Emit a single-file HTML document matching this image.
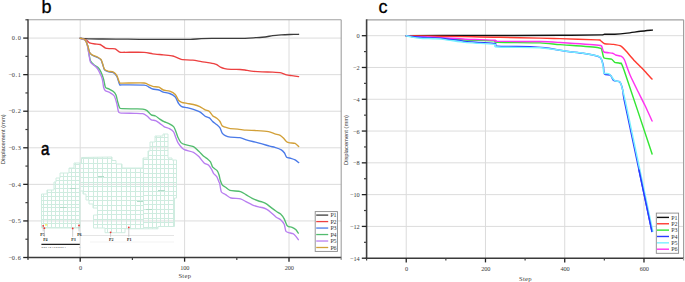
<!DOCTYPE html>
<html><head><meta charset="utf-8"><style>
html,body{margin:0;padding:0;background:#fff;width:685px;height:282px;overflow:hidden}
svg text{font-family:"Liberation Serif",serif}
</style></head><body>
<svg width="685" height="282" viewBox="0 0 685 282" style="display:block;font-family:'Liberation Serif',serif">
<rect width="685" height="282" fill="#fff"/>
<line x1="28" y1="38.08" x2="341.2" y2="38.08" stroke="#dcdcdc" stroke-width="1" />
<line x1="28" y1="74.65" x2="341.2" y2="74.65" stroke="#dcdcdc" stroke-width="1" />
<line x1="28" y1="111.22" x2="341.2" y2="111.22" stroke="#dcdcdc" stroke-width="1" />
<line x1="28" y1="147.79" x2="341.2" y2="147.79" stroke="#dcdcdc" stroke-width="1" />
<line x1="28" y1="184.36" x2="341.2" y2="184.36" stroke="#dcdcdc" stroke-width="1" />
<line x1="28" y1="220.93" x2="341.2" y2="220.93" stroke="#dcdcdc" stroke-width="1" />
<line x1="80.2" y1="19.8" x2="80.2" y2="257.5" stroke="#dcdcdc" stroke-width="1" />
<line x1="184.6" y1="19.8" x2="184.6" y2="257.5" stroke="#dcdcdc" stroke-width="1" />
<line x1="289" y1="19.8" x2="289" y2="257.5" stroke="#dcdcdc" stroke-width="1" />
<clipPath id="mc"><polygon points="41.5,228 41.5,194 47,194 47,190 54,190 54,182 56,182 56,178 60,178 60,173 69,173 69,168 74,168 74,163 81.5,163 81.5,157.5 112,157 112,160.5 116,160.5 116,164 122,164 122,168 143,168 143,158 148,158 148,151 150,151 150,142 155,142 155,136 163,136 163,134 168,134 168,158 172,158 172,160 176.5,160 176.5,198 174.5,198 174.5,226.5 158,226.5 158,228.8 125,228.8 125,232.7 105,232.7 105,228 93.5,228 93.5,215 97.5,215 97.5,208 93,208 93,204 89,204 89,200 86,200 86,194 83,194 83,191 80,191 80,228"/></clipPath>
<g clip-path="url(#mc)">
<line x1="39.5" y1="130" x2="39.5" y2="236" stroke="#cfece0" stroke-width="1" />
<line x1="43.5" y1="130" x2="43.5" y2="236" stroke="#cfece0" stroke-width="1" />
<line x1="47.5" y1="130" x2="47.5" y2="236" stroke="#cfece0" stroke-width="1" />
<line x1="51.5" y1="130" x2="51.5" y2="236" stroke="#cfece0" stroke-width="1" />
<line x1="55.5" y1="130" x2="55.5" y2="236" stroke="#cfece0" stroke-width="1" />
<line x1="59.5" y1="130" x2="59.5" y2="236" stroke="#cfece0" stroke-width="1" />
<line x1="63.5" y1="130" x2="63.5" y2="236" stroke="#cfece0" stroke-width="1" />
<line x1="67.5" y1="130" x2="67.5" y2="236" stroke="#cfece0" stroke-width="1" />
<line x1="71.5" y1="130" x2="71.5" y2="236" stroke="#cfece0" stroke-width="1" />
<line x1="75.5" y1="130" x2="75.5" y2="236" stroke="#cfece0" stroke-width="1" />
<line x1="79.5" y1="130" x2="79.5" y2="236" stroke="#cfece0" stroke-width="1" />
<line x1="38" y1="129.5" x2="80.5" y2="129.5" stroke="#cfece0" stroke-width="1" />
<line x1="38" y1="133.5" x2="80.5" y2="133.5" stroke="#cfece0" stroke-width="1" />
<line x1="38" y1="137.5" x2="80.5" y2="137.5" stroke="#cfece0" stroke-width="1" />
<line x1="38" y1="141.5" x2="80.5" y2="141.5" stroke="#cfece0" stroke-width="1" />
<line x1="38" y1="145.5" x2="80.5" y2="145.5" stroke="#cfece0" stroke-width="1" />
<line x1="38" y1="149.5" x2="80.5" y2="149.5" stroke="#cfece0" stroke-width="1" />
<line x1="38" y1="153.5" x2="80.5" y2="153.5" stroke="#cfece0" stroke-width="1" />
<line x1="38" y1="157.5" x2="80.5" y2="157.5" stroke="#cfece0" stroke-width="1" />
<line x1="38" y1="161.5" x2="80.5" y2="161.5" stroke="#cfece0" stroke-width="1" />
<line x1="38" y1="164.5" x2="80.5" y2="164.5" stroke="#cfece0" stroke-width="1" />
<line x1="38" y1="168.5" x2="80.5" y2="168.5" stroke="#cfece0" stroke-width="1" />
<line x1="38" y1="172.5" x2="80.5" y2="172.5" stroke="#cfece0" stroke-width="1" />
<line x1="38" y1="176.5" x2="80.5" y2="176.5" stroke="#cfece0" stroke-width="1" />
<line x1="38" y1="180.5" x2="80.5" y2="180.5" stroke="#cfece0" stroke-width="1" />
<line x1="38" y1="184.5" x2="80.5" y2="184.5" stroke="#cfece0" stroke-width="1" />
<line x1="38" y1="188.5" x2="80.5" y2="188.5" stroke="#cfece0" stroke-width="1" />
<line x1="38" y1="192.5" x2="80.5" y2="192.5" stroke="#cfece0" stroke-width="1" />
<line x1="38" y1="196.5" x2="80.5" y2="196.5" stroke="#cfece0" stroke-width="1" />
<line x1="38" y1="200.5" x2="80.5" y2="200.5" stroke="#cfece0" stroke-width="1" />
<line x1="38" y1="204.5" x2="80.5" y2="204.5" stroke="#cfece0" stroke-width="1" />
<line x1="38" y1="207.5" x2="80.5" y2="207.5" stroke="#cfece0" stroke-width="1" />
<line x1="38" y1="211.5" x2="80.5" y2="211.5" stroke="#cfece0" stroke-width="1" />
<line x1="38" y1="215.5" x2="80.5" y2="215.5" stroke="#cfece0" stroke-width="1" />
<line x1="38" y1="219.5" x2="80.5" y2="219.5" stroke="#cfece0" stroke-width="1" />
<line x1="38" y1="223.5" x2="80.5" y2="223.5" stroke="#cfece0" stroke-width="1" />
<line x1="38" y1="227.5" x2="80.5" y2="227.5" stroke="#cfece0" stroke-width="1" />
<line x1="38" y1="231.5" x2="80.5" y2="231.5" stroke="#cfece0" stroke-width="1" />
<line x1="38" y1="235.5" x2="80.5" y2="235.5" stroke="#cfece0" stroke-width="1" />
<line x1="83.5" y1="130" x2="83.5" y2="236" stroke="#cfece0" stroke-width="1" />
<line x1="88.5" y1="130" x2="88.5" y2="236" stroke="#cfece0" stroke-width="1" />
<line x1="93.5" y1="130" x2="93.5" y2="236" stroke="#cfece0" stroke-width="1" />
<line x1="97.5" y1="130" x2="97.5" y2="236" stroke="#cfece0" stroke-width="1" />
<line x1="102.5" y1="130" x2="102.5" y2="236" stroke="#cfece0" stroke-width="1" />
<line x1="107.5" y1="130" x2="107.5" y2="236" stroke="#cfece0" stroke-width="1" />
<line x1="111.5" y1="130" x2="111.5" y2="236" stroke="#cfece0" stroke-width="1" />
<line x1="116.5" y1="130" x2="116.5" y2="236" stroke="#cfece0" stroke-width="1" />
<line x1="121.5" y1="130" x2="121.5" y2="236" stroke="#cfece0" stroke-width="1" />
<line x1="126.5" y1="130" x2="126.5" y2="236" stroke="#cfece0" stroke-width="1" />
<line x1="130.5" y1="130" x2="130.5" y2="236" stroke="#cfece0" stroke-width="1" />
<line x1="135.5" y1="130" x2="135.5" y2="236" stroke="#cfece0" stroke-width="1" />
<line x1="140.5" y1="130" x2="140.5" y2="236" stroke="#cfece0" stroke-width="1" />
<line x1="80.5" y1="131.5" x2="143.2" y2="131.5" stroke="#cfece0" stroke-width="1" />
<line x1="80.5" y1="135.5" x2="143.2" y2="135.5" stroke="#cfece0" stroke-width="1" />
<line x1="80.5" y1="140.5" x2="143.2" y2="140.5" stroke="#cfece0" stroke-width="1" />
<line x1="80.5" y1="145.5" x2="143.2" y2="145.5" stroke="#cfece0" stroke-width="1" />
<line x1="80.5" y1="149.5" x2="143.2" y2="149.5" stroke="#cfece0" stroke-width="1" />
<line x1="80.5" y1="154.5" x2="143.2" y2="154.5" stroke="#cfece0" stroke-width="1" />
<line x1="80.5" y1="158.5" x2="143.2" y2="158.5" stroke="#cfece0" stroke-width="1" />
<line x1="80.5" y1="163.5" x2="143.2" y2="163.5" stroke="#cfece0" stroke-width="1" />
<line x1="80.5" y1="168.5" x2="143.2" y2="168.5" stroke="#cfece0" stroke-width="1" />
<line x1="80.5" y1="172.5" x2="143.2" y2="172.5" stroke="#cfece0" stroke-width="1" />
<line x1="80.5" y1="177.5" x2="143.2" y2="177.5" stroke="#cfece0" stroke-width="1" />
<line x1="80.5" y1="182.5" x2="143.2" y2="182.5" stroke="#cfece0" stroke-width="1" />
<line x1="80.5" y1="186.5" x2="143.2" y2="186.5" stroke="#cfece0" stroke-width="1" />
<line x1="80.5" y1="191.5" x2="143.2" y2="191.5" stroke="#cfece0" stroke-width="1" />
<line x1="80.5" y1="196.5" x2="143.2" y2="196.5" stroke="#cfece0" stroke-width="1" />
<line x1="80.5" y1="200.5" x2="143.2" y2="200.5" stroke="#cfece0" stroke-width="1" />
<line x1="80.5" y1="205.5" x2="143.2" y2="205.5" stroke="#cfece0" stroke-width="1" />
<line x1="80.5" y1="210.5" x2="143.2" y2="210.5" stroke="#cfece0" stroke-width="1" />
<line x1="80.5" y1="214.5" x2="143.2" y2="214.5" stroke="#cfece0" stroke-width="1" />
<line x1="80.5" y1="219.5" x2="143.2" y2="219.5" stroke="#cfece0" stroke-width="1" />
<line x1="80.5" y1="224.5" x2="143.2" y2="224.5" stroke="#cfece0" stroke-width="1" />
<line x1="80.5" y1="228.5" x2="143.2" y2="228.5" stroke="#cfece0" stroke-width="1" />
<line x1="80.5" y1="233.5" x2="143.2" y2="233.5" stroke="#cfece0" stroke-width="1" />
<line x1="143.5" y1="130" x2="143.5" y2="236" stroke="#cfece0" stroke-width="1" />
<line x1="148.5" y1="130" x2="148.5" y2="236" stroke="#cfece0" stroke-width="1" />
<line x1="152.5" y1="130" x2="152.5" y2="236" stroke="#cfece0" stroke-width="1" />
<line x1="156.5" y1="130" x2="156.5" y2="236" stroke="#cfece0" stroke-width="1" />
<line x1="160.5" y1="130" x2="160.5" y2="236" stroke="#cfece0" stroke-width="1" />
<line x1="164.5" y1="130" x2="164.5" y2="236" stroke="#cfece0" stroke-width="1" />
<line x1="168.5" y1="130" x2="168.5" y2="236" stroke="#cfece0" stroke-width="1" />
<line x1="173.5" y1="130" x2="173.5" y2="236" stroke="#cfece0" stroke-width="1" />
<line x1="177.5" y1="130" x2="177.5" y2="236" stroke="#cfece0" stroke-width="1" />
<line x1="181.5" y1="130" x2="181.5" y2="236" stroke="#cfece0" stroke-width="1" />
<line x1="143.2" y1="132.5" x2="181" y2="132.5" stroke="#cfece0" stroke-width="1" />
<line x1="143.2" y1="137.5" x2="181" y2="137.5" stroke="#cfece0" stroke-width="1" />
<line x1="143.2" y1="141.5" x2="181" y2="141.5" stroke="#cfece0" stroke-width="1" />
<line x1="143.2" y1="146.5" x2="181" y2="146.5" stroke="#cfece0" stroke-width="1" />
<line x1="143.2" y1="150.5" x2="181" y2="150.5" stroke="#cfece0" stroke-width="1" />
<line x1="143.2" y1="155.5" x2="181" y2="155.5" stroke="#cfece0" stroke-width="1" />
<line x1="143.2" y1="159.5" x2="181" y2="159.5" stroke="#cfece0" stroke-width="1" />
<line x1="143.2" y1="164.5" x2="181" y2="164.5" stroke="#cfece0" stroke-width="1" />
<line x1="143.2" y1="168.5" x2="181" y2="168.5" stroke="#cfece0" stroke-width="1" />
<line x1="143.2" y1="173.5" x2="181" y2="173.5" stroke="#cfece0" stroke-width="1" />
<line x1="143.2" y1="177.5" x2="181" y2="177.5" stroke="#cfece0" stroke-width="1" />
<line x1="143.2" y1="182.5" x2="181" y2="182.5" stroke="#cfece0" stroke-width="1" />
<line x1="143.2" y1="186.5" x2="181" y2="186.5" stroke="#cfece0" stroke-width="1" />
<line x1="143.2" y1="191.5" x2="181" y2="191.5" stroke="#cfece0" stroke-width="1" />
<line x1="143.2" y1="195.5" x2="181" y2="195.5" stroke="#cfece0" stroke-width="1" />
<line x1="143.2" y1="200.5" x2="181" y2="200.5" stroke="#cfece0" stroke-width="1" />
<line x1="143.2" y1="204.5" x2="181" y2="204.5" stroke="#cfece0" stroke-width="1" />
<line x1="143.2" y1="209.5" x2="181" y2="209.5" stroke="#cfece0" stroke-width="1" />
<line x1="143.2" y1="213.5" x2="181" y2="213.5" stroke="#cfece0" stroke-width="1" />
<line x1="143.2" y1="218.5" x2="181" y2="218.5" stroke="#cfece0" stroke-width="1" />
<line x1="143.2" y1="222.5" x2="181" y2="222.5" stroke="#cfece0" stroke-width="1" />
<line x1="143.2" y1="227.5" x2="181" y2="227.5" stroke="#cfece0" stroke-width="1" />
<line x1="143.2" y1="231.5" x2="181" y2="231.5" stroke="#cfece0" stroke-width="1" />
<line x1="143.2" y1="236.5" x2="181" y2="236.5" stroke="#cfece0" stroke-width="1" />
</g>
<polygon points="41.5,228 41.5,194 47,194 47,190 54,190 54,182 56,182 56,178 60,178 60,173 69,173 69,168 74,168 74,163 81.5,163 81.5,157.5 112,157 112,160.5 116,160.5 116,164 122,164 122,168 143,168 143,158 148,158 148,151 150,151 150,142 155,142 155,136 163,136 163,134 168,134 168,158 172,158 172,160 176.5,160 176.5,198 174.5,198 174.5,226.5 158,226.5 158,228.8 125,228.8 125,232.7 105,232.7 105,228 93.5,228 93.5,215 97.5,215 97.5,208 93,208 93,204 89,204 89,200 86,200 86,194 83,194 83,191 80,191 80,228" fill="none" stroke="#cfece0" stroke-width="1"/>
<line x1="60" y1="207.5" x2="66.5" y2="207.5" stroke="#b2dcc9" stroke-width="1" />
<line x1="98" y1="176.5" x2="104" y2="176.5" stroke="#b2dcc9" stroke-width="1" />
<line x1="146" y1="209.5" x2="152" y2="209.5" stroke="#b2dcc9" stroke-width="1" />
<line x1="158" y1="190.5" x2="165" y2="190.5" stroke="#b2dcc9" stroke-width="1" />
<line x1="70" y1="188.5" x2="76" y2="188.5" stroke="#b2dcc9" stroke-width="1" />
<line x1="137" y1="201.5" x2="143" y2="201.5" stroke="#b2dcc9" stroke-width="1" />
<line x1="80" y1="235.5" x2="174" y2="235.5" stroke="#e2e2e2" stroke-width="0.9" />
<line x1="90" y1="242" x2="174" y2="242" stroke="#f0f0f0" stroke-width="0.8" />
<line x1="43.2" y1="225.8" x2="43.2" y2="231.4" stroke="#b0b0b0" stroke-width="0.6" />
<circle cx="43.2" cy="225.8" r="0.9" fill="#e33"/>
<text x="42.6" y="235.6" font-size="4.0" text-anchor="middle" fill="#222" font-weight="bold">P5</text>
<line x1="44.4" y1="228.2" x2="44.4" y2="236.8" stroke="#b0b0b0" stroke-width="0.6" />
<circle cx="44.4" cy="228.2" r="0.9" fill="#e33"/>
<text x="45.4" y="241" font-size="4.0" text-anchor="middle" fill="#222" font-weight="bold">P4</text>
<line x1="72.7" y1="228.4" x2="72.7" y2="236.8" stroke="#b0b0b0" stroke-width="0.6" />
<circle cx="72.7" cy="228.4" r="0.9" fill="#e33"/>
<text x="73.5" y="241" font-size="4.0" text-anchor="middle" fill="#222" font-weight="bold">P3</text>
<line x1="79" y1="225.4" x2="79" y2="231.4" stroke="#b0b0b0" stroke-width="0.6" />
<circle cx="79.0" cy="225.4" r="0.9" fill="#e33"/>
<text x="79.4" y="235.6" font-size="4.0" text-anchor="middle" fill="#222" font-weight="bold">P6</text>
<line x1="110.6" y1="232.3" x2="110.6" y2="236.8" stroke="#b0b0b0" stroke-width="0.6" />
<circle cx="110.6" cy="232.3" r="0.9" fill="#e33"/>
<text x="111.3" y="241" font-size="4.0" text-anchor="middle" fill="#222" font-weight="bold">P2</text>
<line x1="128.8" y1="227.3" x2="128.8" y2="236.8" stroke="#b0b0b0" stroke-width="0.6" />
<circle cx="128.8" cy="227.3" r="0.9" fill="#e33"/>
<text x="129.2" y="241" font-size="4.0" text-anchor="middle" fill="#222" font-weight="bold">P1</text>
<rect x="45" y="224.3" width="2.2" height="1.2" fill="#ee4"/>
<line x1="41.4" y1="244.4" x2="79.8" y2="244.4" stroke="#222" stroke-width="1.1" />
<text x="41.4" y="248" font-size="2.8" text-anchor="start" fill="#222" >0 0.5 1.0 1.5 2.0 2.5  1</text>
<text x="79.6" y="248.2" font-size="2.6" text-anchor="middle" fill="#333" >r</text>
<text transform="translate(41.0,155.2) scale(0.82,1)" font-size="18.4" fill="#000" stroke="#000" stroke-width="0.55" style="font-family:'Liberation Sans',sans-serif">a</text>
<path d="M80.2,38.3 C81.34,38.36 87.36,38.72 90,38.8 C92.64,38.88 98.37,38.95 102.8,39 C107.23,39.05 122.49,39.15 128,39.2 C133.51,39.25 143.93,39.39 150,39.4 C156.07,39.41 175.26,39.3 180,39.3 C184.74,39.3 188.11,39.48 190.6,39.4 C193.09,39.32 198.81,38.73 201.3,38.6 C203.79,38.47 206.8,38.34 211.9,38.3 C217,38.26 239.9,38.37 245,38.3 C250.1,38.23 253.24,37.85 255.6,37.7 C257.96,37.55 263.2,37.24 265.2,37 C267.19,36.76 270.83,35.84 272.7,35.6 C274.57,35.36 279.22,35.03 281.2,34.9 C283.18,34.77 287.67,34.57 289.7,34.5 C291.73,34.43 297.56,34.32 298.6,34.3" fill="none" stroke="#3c3c3c" stroke-width="1.35" stroke-linejoin="round" stroke-linecap="round" />
<path d="M80.2,38.3 C80.88,38.47 84.92,39.27 86,39.8 C87.08,40.32 88.45,42.31 89.5,42.8 C90.55,43.29 93.75,43.8 95,44 C96.25,44.2 98.98,44.02 100.2,44.5 C101.42,44.98 104.36,47.62 105.5,48.1 C106.64,48.58 108.87,48.52 110,48.6 C111.13,48.68 114.07,48.38 115.2,48.8 C116.33,49.22 118.56,51.79 119.7,52.2 C120.84,52.61 122.15,52.29 125,52.3 C127.85,52.31 140.87,52.12 144.1,52.3 C147.33,52.47 150.46,53.5 152.7,53.8 C154.94,54.1 160.94,54.64 163.3,54.9 C165.66,55.16 171.03,55.56 172.9,56 C174.77,56.44 178.19,58.28 179.3,58.7 C180.41,59.12 180.83,59.44 182.4,59.6 C183.97,59.76 190.59,59.87 192.8,60.1 C195.01,60.33 199.32,61.27 201.3,61.6 C203.28,61.93 208.06,62.57 209.8,62.9 C211.54,63.23 214.96,63.91 216.2,64.4 C217.44,64.89 219.41,66.61 220.4,67.1 C221.39,67.59 223.45,68.34 224.7,68.6 C225.95,68.86 229.31,69.19 231.1,69.3 C232.88,69.41 238.38,69.42 240,69.5 C241.62,69.58 243.67,69.81 245,70 C246.33,70.19 249.42,70.88 251.4,71.1 C253.38,71.32 259.51,71.78 262,71.9 C264.49,72.02 270.46,71.99 272.7,72.1 C274.94,72.2 279.59,72.47 281.2,72.8 C282.81,73.13 285.26,74.56 286.5,74.9 C287.74,75.24 290.39,75.5 291.8,75.7 C293.21,75.9 297.81,76.49 298.6,76.6" fill="none" stroke="#ec4040" stroke-width="1.35" stroke-linejoin="round" stroke-linecap="round" />
<path d="M80.2,38.3 C80.76,38.47 84.11,38.9 85,39.8 C85.89,40.7 87.27,44.55 87.8,46 C88.33,47.45 88.99,51.12 89.5,52.2 C90.01,53.29 91.27,54.68 92.2,55.3 C93.13,55.92 96.47,56.98 97.5,57.5 C98.53,58.02 100.39,58.98 101,59.8 C101.61,60.62 102.29,63.32 102.7,64.5 C103.11,65.68 103.88,69.06 104.5,69.9 C105.12,70.74 106.96,71.39 108,71.7 C109.04,72.02 112.36,72.04 113.4,72.6 C114.44,73.16 116.18,75.11 116.9,76.5 C117.62,77.89 118.98,83.52 119.6,84.5 C120.22,85.48 119.34,84.83 122.2,84.9 C125.06,84.97 141.04,84.88 144.1,85.1 C147.16,85.32 147.4,86.34 148.4,86.8 C149.4,87.25 151.46,88.63 152.7,89 C153.94,89.37 157.76,89.64 159,90 C160.24,90.36 162.05,91.69 163.3,92.1 C164.55,92.51 168.3,92.93 169.7,93.5 C171.1,94.07 174.27,95.84 175.3,97 C176.33,98.16 177.75,102.28 178.5,103.4 C179.25,104.52 180.71,106.1 181.7,106.6 C182.69,107.1 185.63,107.37 187,107.7 C188.37,108.03 191.91,108.91 193.4,109.4 C194.89,109.89 198.44,111.11 199.8,111.9 C201.17,112.69 203.98,115.5 205.1,116.2 C206.22,116.9 208.53,117.28 209.4,117.9 C210.28,118.52 211.74,120.71 212.6,121.5 C213.46,122.29 215.94,123.95 216.8,124.7 C217.66,125.45 219.37,126.91 220,127.9 C220.63,128.89 221.58,132.29 222.2,133.2 C222.82,134.11 224.36,135.23 225.3,135.7 C226.25,136.17 228.6,136.97 230.3,137.2 C232,137.43 238.03,137.4 239.9,137.7 C241.77,138 244.81,139.36 246.3,139.8 C247.79,140.24 250.96,141.06 252.7,141.5 C254.44,141.94 259.22,143.05 261.2,143.6 C263.18,144.15 268.1,145.76 269.7,146.2 C271.3,146.64 273.55,146.98 274.9,147.4 C276.25,147.82 280.18,149.15 281.3,149.8 C282.42,150.45 283.88,152.14 284.5,153 C285.12,153.86 285.85,156.58 286.6,157.2 C287.35,157.82 289.91,158 290.9,158.3 C291.89,158.6 294.19,159.3 295.1,159.8 C296.01,160.3 298.28,162.27 298.7,162.6" fill="none" stroke="#4a7ae8" stroke-width="1.35" stroke-linejoin="round" stroke-linecap="round" />
<path d="M80.2,38.3 C80.88,38.54 85.11,39.36 86,40.4 C86.89,41.44 87.45,45.61 87.8,47.2 C88.15,48.79 88.67,52.39 89,54 C89.33,55.61 90.03,59.74 90.6,61 C91.17,62.26 93,64.02 93.9,64.8 C94.8,65.58 97.47,66.85 98.3,67.7 C99.13,68.55 100.38,70.76 101,72.1 C101.62,73.44 103.09,77.44 103.6,79.2 C104.11,80.96 104.78,86.07 105.4,87.2 C106.02,88.33 107.97,88.39 108.9,88.9 C109.83,89.41 112.57,90.88 113.4,91.6 C114.23,92.32 115.49,93.86 116,95.1 C116.51,96.34 117.38,100.72 117.8,102.2 C118.22,103.68 119.09,107.04 119.6,107.8 C120.11,108.56 120.4,108.57 122.2,108.7 C124,108.83 132.6,108.85 135,108.9 C137.4,108.95 141.4,108.9 142.8,109.1 C144.2,109.3 146.01,109.92 147,110.6 C147.99,111.28 150.31,114.27 151.3,114.9 C152.29,115.53 154.51,115.51 155.5,116 C156.49,116.49 158.81,118.43 159.8,119.1 C160.79,119.77 162.88,121.15 164,121.7 C165.12,122.25 168.28,123.23 169.4,123.8 C170.52,124.37 172.87,125.77 173.6,126.6 C174.33,127.43 175.2,129.66 175.7,130.9 C176.2,132.14 177.28,135.83 177.9,137.2 C178.52,138.56 180.14,141.72 181,142.6 C181.86,143.47 183.84,144.23 185.3,144.7 C186.76,145.17 191.93,145.83 193.5,146.6 C195.07,147.37 197.56,150.13 198.8,151.3 C200.04,152.47 203.11,155.74 204.1,156.6 C205.09,157.46 206.55,158.08 207.3,158.7 C208.05,159.32 209.87,160.91 210.5,161.9 C211.13,162.89 211.95,166.21 212.7,167.2 C213.45,168.19 216.16,169.53 216.9,170.4 C217.64,171.28 218.6,173.54 219,174.7 C219.4,175.85 219.9,179.08 220.3,180.3 C220.7,181.53 221.78,184.38 222.4,185.2 C223.02,186.02 224.72,186.71 225.6,187.3 C226.47,187.9 228.16,189.8 229.9,190.3 C231.64,190.8 238.63,191.1 240.5,191.6 C242.37,192.1 244.53,193.81 245.9,194.6 C247.27,195.39 250.72,197.65 252.2,198.4 C253.68,199.15 257.46,200.59 258.6,201 C259.74,201.41 261.09,201.56 262,201.9 C262.91,202.24 265.36,203.26 266.4,203.9 C267.44,204.54 269.76,206.54 270.9,207.4 C272.04,208.26 275.07,210.52 276.2,211.3 C277.33,212.08 279.67,213.21 280.6,214.1 C281.53,214.99 283.48,217.62 284.2,218.9 C284.92,220.18 286.29,224.2 286.8,225.1 C287.31,226 287.98,226.34 288.6,226.6 C289.22,226.86 291.27,226.95 292.1,227.3 C292.93,227.65 294.98,228.92 295.7,229.6 C296.42,230.28 298,232.69 298.3,233.1" fill="none" stroke="#52bc6e" stroke-width="1.35" stroke-linejoin="round" stroke-linecap="round" />
<path d="M80.2,38.3 C80.88,38.57 85.11,39.5 86,40.6 C86.89,41.7 87.45,46.04 87.8,47.7 C88.15,49.36 88.7,53.13 89,54.8 C89.3,56.47 89.93,60.86 90.4,62 C90.87,63.14 92.18,63.84 93,64.6 C93.82,65.36 96.47,67.22 97.4,68.5 C98.33,69.78 100.41,74.26 101,75.6 C101.59,76.94 102.2,78.65 102.5,80 C102.8,81.35 103.26,85.95 103.6,87.2 C103.94,88.45 104.68,90.08 105.4,90.7 C106.12,91.32 108.76,91.88 109.8,92.5 C110.84,93.12 113.47,94.66 114.3,96 C115.13,97.34 116.39,102.11 116.9,104 C117.41,105.89 118.08,111.14 118.7,112.2 C119.32,113.26 120.3,112.97 122.2,113.1 C124.1,113.23 132.6,113.23 135,113.3 C137.4,113.37 141.4,113.39 142.8,113.7 C144.2,114.02 146.01,115.29 147,116 C147.99,116.71 150.31,119.26 151.3,119.8 C152.29,120.34 154.51,120.18 155.5,120.6 C156.49,121.02 158.81,122.7 159.8,123.4 C160.79,124.1 162.88,125.98 164,126.6 C165.12,127.22 168.28,128.08 169.4,128.7 C170.52,129.32 172.87,130.91 173.6,131.9 C174.33,132.89 175.2,135.95 175.7,137.2 C176.2,138.45 177.15,141.35 177.9,142.6 C178.65,143.85 181.24,147.04 182.1,147.9 C182.96,148.76 183.97,149.49 185.3,150 C186.63,150.51 191.93,151.53 193.5,152.3 C195.07,153.07 197.56,155.35 198.8,156.6 C200.04,157.85 202.98,162.01 204.1,163 C205.22,163.99 207.53,164.35 208.4,165.1 C209.28,165.85 210.98,168.41 211.6,169.4 C212.22,170.39 213.08,172.74 213.7,173.6 C214.32,174.46 216.28,175.81 216.9,176.8 C217.52,177.79 218.67,181.32 219,182.1 C219.33,182.88 219.42,182.34 219.7,183.5 C219.98,184.66 220.71,190.71 221.4,192 C222.09,193.29 224.48,193.9 225.6,194.6 C226.72,195.3 229.26,197.51 231,198 C232.74,198.49 238.76,198.38 240.5,198.8 C242.24,199.22 244.53,200.9 245.9,201.6 C247.27,202.3 250.72,204.18 252.2,204.8 C253.68,205.42 257.46,206.59 258.6,206.9 C259.74,207.22 261.09,207.23 262,207.5 C262.91,207.77 265.36,208.63 266.4,209.2 C267.44,209.77 269.76,211.47 270.9,212.4 C272.04,213.33 275.07,216.34 276.2,217.2 C277.33,218.06 279.67,218.97 280.6,219.8 C281.53,220.63 283.58,222.96 284.2,224.3 C284.82,225.64 285.39,230.33 285.9,231.3 C286.41,232.27 287.77,232.32 288.6,232.6 C289.43,232.88 292.17,233.29 293,233.7 C293.83,234.11 295.08,235.4 295.7,236.1 C296.32,236.8 298,239.28 298.3,239.7" fill="none" stroke="#b87ef0" stroke-width="1.35" stroke-linejoin="round" stroke-linecap="round" />
<path d="M80.2,38.3 C80.76,38.47 84.11,38.9 85,39.8 C85.89,40.7 87.27,44.55 87.8,46 C88.33,47.45 88.99,51.17 89.5,52.2 C90.01,53.23 91.27,54.24 92.2,54.8 C93.13,55.36 96.47,56.48 97.5,57 C98.53,57.52 100.39,58.48 101,59.3 C101.61,60.12 102.29,62.82 102.7,64 C103.11,65.18 103.88,68.56 104.5,69.4 C105.12,70.24 106.96,70.89 108,71.2 C109.04,71.52 112.36,71.59 113.4,72.1 C114.44,72.61 116.18,74.36 116.9,75.6 C117.62,76.84 118.98,81.83 119.6,82.7 C120.22,83.58 119.34,83.06 122.2,83.1 C125.06,83.13 141.04,82.81 144.1,83 C147.16,83.19 147.4,84.3 148.4,84.7 C149.4,85.1 151.46,86.11 152.7,86.4 C153.94,86.69 157.76,86.78 159,87.2 C160.24,87.62 162.05,89.53 163.3,90 C164.55,90.47 168.3,90.67 169.7,91.2 C171.1,91.73 174.27,93.45 175.3,94.5 C176.33,95.55 177.75,99.29 178.5,100.2 C179.25,101.11 180.71,101.93 181.7,102.3 C182.69,102.67 185.63,103.14 187,103.4 C188.37,103.66 191.91,104.13 193.4,104.5 C194.89,104.87 198.44,105.98 199.8,106.6 C201.17,107.22 203.98,109.23 205.1,109.8 C206.22,110.37 208.53,110.81 209.4,111.5 C210.28,112.19 211.74,114.91 212.6,115.7 C213.46,116.49 215.94,117.62 216.8,118.3 C217.66,118.98 219.38,120.64 220,121.5 C220.62,122.36 221.48,125.03 222.1,125.7 C222.72,126.37 224.34,126.85 225.3,127.2 C226.26,127.55 228.84,128.48 230.3,128.7 C231.76,128.92 235.93,128.92 237.8,129.1 C239.67,129.28 244.07,130.02 246.3,130.2 C248.53,130.38 254.31,130.42 256.9,130.6 C259.49,130.78 266.4,131.33 268.5,131.7 C270.6,132.07 273.53,133.38 274.9,133.8 C276.26,134.22 279.21,134.8 280.2,135.3 C281.19,135.8 282.65,137.35 283.4,138.1 C284.15,138.85 285.85,141.15 286.6,141.7 C287.35,142.25 288.81,142.6 289.8,142.8 C290.79,143 294.06,142.96 295.1,143.4 C296.14,143.84 298.28,146.23 298.7,146.6" fill="none" stroke="#d2a038" stroke-width="1.35" stroke-linejoin="round" stroke-linecap="round" />
<line x1="28" y1="19.8" x2="341.2" y2="19.8" stroke="#a0a0a0" stroke-width="1.1" />
<line x1="341.2" y1="19.8" x2="341.2" y2="259.3" stroke="#a0a0a0" stroke-width="1.1" />
<line x1="28" y1="19.3" x2="28" y2="258.3" stroke="#505050" stroke-width="1.6" />
<line x1="27.2" y1="257.5" x2="341.2" y2="257.5" stroke="#3a3a3a" stroke-width="1.5" />
<line x1="23.2" y1="38.08" x2="28" y2="38.08" stroke="#222" stroke-width="1.3" />
<text x="13.4 16.32 19.24" y="40.28" font-size="6.3" text-anchor="middle" fill="#3a3a3a" >0.0</text>
<line x1="23.2" y1="74.65" x2="28" y2="74.65" stroke="#222" stroke-width="1.3" />
<text x="10.48 13.4 16.32 19.24" y="76.85" font-size="6.3" text-anchor="middle" fill="#3a3a3a" >−0.1</text>
<line x1="23.2" y1="111.22" x2="28" y2="111.22" stroke="#222" stroke-width="1.3" />
<text x="10.48 13.4 16.32 19.24" y="113.42" font-size="6.3" text-anchor="middle" fill="#3a3a3a" >−0.2</text>
<line x1="23.2" y1="147.79" x2="28" y2="147.79" stroke="#222" stroke-width="1.3" />
<text x="10.48 13.4 16.32 19.24" y="149.99" font-size="6.3" text-anchor="middle" fill="#3a3a3a" >−0.3</text>
<line x1="23.2" y1="184.36" x2="28" y2="184.36" stroke="#222" stroke-width="1.3" />
<text x="10.48 13.4 16.32 19.24" y="186.56" font-size="6.3" text-anchor="middle" fill="#3a3a3a" >−0.4</text>
<line x1="23.2" y1="220.93" x2="28" y2="220.93" stroke="#222" stroke-width="1.3" />
<text x="10.48 13.4 16.32 19.24" y="223.13" font-size="6.3" text-anchor="middle" fill="#3a3a3a" >−0.5</text>
<line x1="23.2" y1="257.5" x2="28" y2="257.5" stroke="#222" stroke-width="1.3" />
<text x="10.48 13.4 16.32 19.24" y="259.7" font-size="6.3" text-anchor="middle" fill="#3a3a3a" >−0.6</text>
<line x1="25.4" y1="19.8" x2="28" y2="19.8" stroke="#404040" stroke-width="1.2" />
<line x1="25.4" y1="56.37" x2="28" y2="56.37" stroke="#404040" stroke-width="1.2" />
<line x1="25.4" y1="92.94" x2="28" y2="92.94" stroke="#404040" stroke-width="1.2" />
<line x1="25.4" y1="129.51" x2="28" y2="129.51" stroke="#404040" stroke-width="1.2" />
<line x1="25.4" y1="166.08" x2="28" y2="166.08" stroke="#404040" stroke-width="1.2" />
<line x1="25.4" y1="202.65" x2="28" y2="202.65" stroke="#404040" stroke-width="1.2" />
<line x1="25.4" y1="239.22" x2="28" y2="239.22" stroke="#404040" stroke-width="1.2" />
<line x1="80.2" y1="257.5" x2="80.2" y2="261.7" stroke="#222" stroke-width="1.3" />
<text x="80.5" y="270.1" font-size="6.3" text-anchor="middle" fill="#3a3a3a" >0</text>
<line x1="184.6" y1="257.5" x2="184.6" y2="261.7" stroke="#222" stroke-width="1.3" />
<text x="181.9 184.9 187.9" y="270.1" font-size="6.3" text-anchor="middle" fill="#3a3a3a" >100</text>
<line x1="289" y1="257.5" x2="289" y2="261.7" stroke="#222" stroke-width="1.3" />
<text x="286.3 289.3 292.3" y="270.1" font-size="6.3" text-anchor="middle" fill="#3a3a3a" >200</text>
<line x1="28" y1="257.5" x2="28" y2="259.9" stroke="#404040" stroke-width="1.2" />
<line x1="132.4" y1="257.5" x2="132.4" y2="259.9" stroke="#404040" stroke-width="1.2" />
<line x1="236.8" y1="257.5" x2="236.8" y2="259.9" stroke="#404040" stroke-width="1.2" />
<line x1="341.2" y1="257.5" x2="341.2" y2="259.9" stroke="#a0a0a0" stroke-width="1.2" />
<text x="178.4" y="277.9" font-size="6.6" textLength="12.6" lengthAdjust="spacing" fill="#3a3a3a">Step</text>
<text transform="translate(5.0,139.3) rotate(-90)" x="-25" y="0" font-size="5.8" textLength="50" lengthAdjust="spacing" fill="#333" style="font-family:'Liberation Sans',sans-serif">Displacement (mm)</text>
<rect x="315.2" y="211.6" width="22.2" height="39.8" fill="#fff" stroke="#8a8a8a" stroke-width="0.9"/>
<line x1="316.2" y1="215.1" x2="328.2" y2="215.1" stroke="#3c3c3c" stroke-width="1.3" />
<text x="332.08 335.03" y="217.3" font-size="6.0" text-anchor="middle" fill="#333" >P1</text>
<line x1="316.2" y1="221.58" x2="328.2" y2="221.58" stroke="#ec4040" stroke-width="1.3" />
<text x="332.08 335.03" y="223.78" font-size="6.0" text-anchor="middle" fill="#333" >P2</text>
<line x1="316.2" y1="228.06" x2="328.2" y2="228.06" stroke="#4a7ae8" stroke-width="1.3" />
<text x="332.08 335.03" y="230.26" font-size="6.0" text-anchor="middle" fill="#333" >P3</text>
<line x1="316.2" y1="234.54" x2="328.2" y2="234.54" stroke="#52bc6e" stroke-width="1.3" />
<text x="332.08 335.03" y="236.74" font-size="6.0" text-anchor="middle" fill="#333" >P4</text>
<line x1="316.2" y1="241.02" x2="328.2" y2="241.02" stroke="#b87ef0" stroke-width="1.3" />
<text x="332.08 335.03" y="243.22" font-size="6.0" text-anchor="middle" fill="#333" >P5</text>
<line x1="316.2" y1="247.5" x2="328.2" y2="247.5" stroke="#d2a038" stroke-width="1.3" />
<text x="332.08 335.03" y="249.7" font-size="6.0" text-anchor="middle" fill="#333" >P6</text>
<text x="41.6" y="13.1" font-size="18.0" fill="#000" stroke="#000" stroke-width="0.3" style="font-family:'Liberation Sans',sans-serif">b</text>
<line x1="366.6" y1="35.69" x2="683.6" y2="35.69" stroke="#dcdcdc" stroke-width="1" />
<line x1="366.6" y1="67.48" x2="683.6" y2="67.48" stroke="#dcdcdc" stroke-width="1" />
<line x1="366.6" y1="99.27" x2="683.6" y2="99.27" stroke="#dcdcdc" stroke-width="1" />
<line x1="366.6" y1="131.05" x2="683.6" y2="131.05" stroke="#dcdcdc" stroke-width="1" />
<line x1="366.6" y1="162.84" x2="683.6" y2="162.84" stroke="#dcdcdc" stroke-width="1" />
<line x1="366.6" y1="194.63" x2="683.6" y2="194.63" stroke="#dcdcdc" stroke-width="1" />
<line x1="366.6" y1="226.41" x2="683.6" y2="226.41" stroke="#dcdcdc" stroke-width="1" />
<line x1="406.23" y1="19.8" x2="406.23" y2="258.2" stroke="#dcdcdc" stroke-width="1" />
<line x1="485.48" y1="19.8" x2="485.48" y2="258.2" stroke="#dcdcdc" stroke-width="1" />
<line x1="564.73" y1="19.8" x2="564.73" y2="258.2" stroke="#dcdcdc" stroke-width="1" />
<line x1="643.98" y1="19.8" x2="643.98" y2="258.2" stroke="#dcdcdc" stroke-width="1" />
<path d="M406.2,35.7 C413.64,35.68 452.06,35.55 470,35.5 C487.94,35.45 544.83,35.37 560,35.3 C575.17,35.23 594.81,35.02 600,34.9 C605.19,34.78 602.77,34.38 604.5,34.3 C606.23,34.22 612.15,34.34 614.8,34.2 C617.45,34.06 624.19,33.44 627.2,33.1 C630.21,32.76 637.67,31.65 640.6,31.3 C643.53,30.95 650.93,30.24 652.3,30.1" fill="none" stroke="#111111" stroke-width="1.45" stroke-linejoin="round" stroke-linecap="round" />
<path d="M406.2,35.7 C409.56,35.76 428.14,36.1 435,36.2 C441.86,36.3 459.75,36.51 465,36.6 C470.25,36.69 475.92,36.92 480,37 C484.08,37.08 493,37.17 500,37.3 C507,37.43 533,37.95 540,38.1 C547,38.25 553.35,38.39 560,38.6 C566.65,38.81 592.27,39.67 597,39.9 C601.73,40.13 599.6,40.16 600.5,40.6 C601.4,41.04 603.17,43.26 604.7,43.7 C606.23,44.14 611.7,44.12 613.6,44.4 C615.5,44.68 619.55,45.32 621,46.1 C622.45,46.88 624.4,49.36 626,51.1 C627.6,52.84 632.53,58.69 634.7,61 C636.87,63.31 642.58,68.79 644.6,70.9 C646.62,73.01 651.14,78.14 652,79.1" fill="none" stroke="#ff3a30" stroke-width="1.45" stroke-linejoin="round" stroke-linecap="round" />
<path d="M406.2,35.7 C407.05,35.83 410.14,36.57 413.5,36.8 C416.86,37.03 428.99,37.33 435,37.7 C441.01,38.07 459.75,39.69 465,40 C470.25,40.31 476.46,40.31 480,40.4 C483.54,40.49 493.32,40.57 495.3,40.8 C497.28,41.03 491.79,42.16 497,42.4 C502.21,42.64 532.65,42.64 540,42.9 C547.35,43.16 553.17,44.04 560,44.6 C566.83,45.16 593.6,46.95 598.5,47.7 C603.4,48.45 601.36,49.8 602,51 C602.64,52.2 602.89,57.05 604,58 C605.11,58.95 610.25,58.6 611.5,59.1 C612.75,59.6 613.71,61.8 614.7,62.3 C615.69,62.8 618.91,62.5 620,63.4 C621.09,64.3 620.25,59.43 624,70 C627.75,80.57 648.82,144.2 652.1,154" fill="none" stroke="#33e633" stroke-width="1.45" stroke-linejoin="round" stroke-linecap="round" />
<path d="M406.2,35.7 C407.09,35.8 410.44,36.43 413.8,36.6 C417.16,36.77 429.03,36.9 435,37.2 C440.97,37.5 459.75,38.92 465,39.2 C470.25,39.48 476.46,39.47 480,39.6 C483.54,39.73 493.32,40.1 495.3,40.3 C497.28,40.5 491.79,41.16 497,41.3 C502.21,41.44 532.65,41.36 540,41.5 C547.35,41.64 553.17,42.06 560,42.5 C566.83,42.94 593.61,44.77 598.5,45.3 C603.39,45.82 601.26,46.22 601.9,47 C602.54,47.78 602.75,51.28 604,52 C605.25,52.72 611.24,52.85 612.6,53.2 C613.97,53.55 614.72,54.65 615.7,55 C616.68,55.35 620,55.68 621,56.2 C622,56.73 623.6,58.24 624.3,59.5 C625,60.76 626.28,65.08 627,67 C627.72,68.92 629.33,73.38 630.5,76 C631.67,78.62 635.31,86.06 637,89.5 C638.69,92.94 643.24,101.83 645,105.5 C646.76,109.17 651.27,119.19 652.1,121" fill="none" stroke="#ff33f0" stroke-width="1.45" stroke-linejoin="round" stroke-linecap="round" />
<path d="M406.2,35.7 C406.88,35.79 410.39,36.31 412,36.5 C413.61,36.69 417.32,37.14 420,37.3 C422.68,37.46 432.08,37.74 435,37.9 C437.92,38.06 441.5,38.29 445,38.7 C448.5,39.11 460.92,40.97 465,41.4 C469.08,41.83 476.46,42.16 480,42.4 C483.54,42.64 493.29,43.07 495.3,43.5 C497.31,43.93 493.15,45.74 497.2,46.1 C501.25,46.46 524.42,46.4 530,46.6 C535.58,46.8 541.5,47.38 545,47.8 C548.5,48.22 557.08,49.75 560,50.2 C562.92,50.66 567.32,51.34 570,51.7 C572.68,52.06 579.77,52.77 583,53.3 C586.23,53.82 595.6,55.62 597.7,56.2 C599.8,56.78 600.35,57.21 601,58.3 C601.65,59.38 602.89,63.67 603.3,65.5 C603.71,67.33 603.67,72.88 604.5,74 C605.33,75.12 609.34,74.35 610.4,75.1 C611.46,75.85 612.6,79.65 613.6,80.4 C614.6,81.15 618.14,81.08 619,81.5 C619.86,81.92 620.54,82.89 621,84 C621.46,85.11 622.53,89.13 622.9,91 C623.27,92.87 622.57,91.95 624.2,100 C625.83,108.05 633.67,144.67 636.9,160 C640.13,175.33 650.15,223.07 651.9,231.4" fill="none" stroke="#2a3cff" stroke-width="1.45" stroke-linejoin="round" stroke-linecap="round" />
<path d="M406.2,35.7 C406.88,35.86 410.39,36.81 412,37.1 C413.61,37.39 417.32,38 420,38.2 C422.68,38.4 432.08,38.64 435,38.8 C437.92,38.96 441.5,39.18 445,39.6 C448.5,40.02 460.92,41.96 465,42.4 C469.08,42.84 476.46,43.17 480,43.4 C483.54,43.63 493.29,43.98 495.3,44.4 C497.31,44.82 491.99,46.62 497.2,47 C502.41,47.38 532.67,47.32 540,47.7 C547.33,48.09 556.5,49.83 560,50.3 C563.5,50.77 567.32,51.36 570,51.7 C572.68,52.04 579.77,52.7 583,53.2 C586.23,53.7 595.61,55.43 597.7,56 C599.79,56.57 600.28,56.99 600.9,58.1 C601.52,59.21 602.64,63.76 603,65.5 C603.36,67.24 603.25,72.01 604,73 C604.75,73.99 608.28,73.25 609.4,74 C610.52,74.75 612.87,78.59 613.6,79.4 C614.34,80.21 614.95,80.59 615.7,80.9 C616.45,81.22 619.25,81.28 620,82.1 C620.75,82.92 621.5,85.81 622.1,87.9 C622.7,89.99 623.27,91.59 625.1,100 C626.93,108.41 634.57,144.67 637.8,160 C641.03,175.33 651.05,223.07 652.8,231.4" fill="none" stroke="#77f0ff" stroke-width="1.45" stroke-linejoin="round" stroke-linecap="round" />
<polyline points="639,170 651.9,231.4" fill="none" stroke="#2a3cff" stroke-width="1.45" stroke-linejoin="round" stroke-linecap="round" />
<line x1="366.6" y1="19.8" x2="683.6" y2="19.8" stroke="#a0a0a0" stroke-width="1.2" />
<line x1="683.6" y1="19.8" x2="683.6" y2="258.2" stroke="#a0a0a0" stroke-width="1.2" />
<line x1="366.6" y1="19.3" x2="366.6" y2="259" stroke="#404040" stroke-width="1.6" />
<line x1="365.8" y1="258.2" x2="683.6" y2="258.2" stroke="#3a3a3a" stroke-width="1.5" />
<line x1="361.8" y1="35.69" x2="366.6" y2="35.69" stroke="#222" stroke-width="1.3" />
<text x="358.03" y="38.29" font-size="6.3" text-anchor="middle" fill="#3a3a3a" >0</text>
<line x1="361.8" y1="67.48" x2="366.6" y2="67.48" stroke="#222" stroke-width="1.3" />
<text x="355.08 358.03" y="70.08" font-size="6.3" text-anchor="middle" fill="#3a3a3a" >−2</text>
<line x1="361.8" y1="99.27" x2="366.6" y2="99.27" stroke="#222" stroke-width="1.3" />
<text x="355.08 358.03" y="101.87" font-size="6.3" text-anchor="middle" fill="#3a3a3a" >−4</text>
<line x1="361.8" y1="131.05" x2="366.6" y2="131.05" stroke="#222" stroke-width="1.3" />
<text x="355.08 358.03" y="133.65" font-size="6.3" text-anchor="middle" fill="#3a3a3a" >−6</text>
<line x1="361.8" y1="162.84" x2="366.6" y2="162.84" stroke="#222" stroke-width="1.3" />
<text x="355.08 358.03" y="165.44" font-size="6.3" text-anchor="middle" fill="#3a3a3a" >−8</text>
<line x1="361.8" y1="194.63" x2="366.6" y2="194.63" stroke="#222" stroke-width="1.3" />
<text x="352.12 355.07 358.02" y="197.23" font-size="6.3" text-anchor="middle" fill="#3a3a3a" >−10</text>
<line x1="361.8" y1="226.41" x2="366.6" y2="226.41" stroke="#222" stroke-width="1.3" />
<text x="352.12 355.07 358.02" y="229.01" font-size="6.3" text-anchor="middle" fill="#3a3a3a" >−12</text>
<line x1="361.8" y1="258.2" x2="366.6" y2="258.2" stroke="#222" stroke-width="1.3" />
<text x="352.12 355.07 358.02" y="260.8" font-size="6.3" text-anchor="middle" fill="#3a3a3a" >−14</text>
<line x1="364" y1="51.59" x2="366.6" y2="51.59" stroke="#404040" stroke-width="1.2" />
<line x1="364" y1="83.37" x2="366.6" y2="83.37" stroke="#404040" stroke-width="1.2" />
<line x1="364" y1="115.16" x2="366.6" y2="115.16" stroke="#404040" stroke-width="1.2" />
<line x1="364" y1="146.95" x2="366.6" y2="146.95" stroke="#404040" stroke-width="1.2" />
<line x1="364" y1="178.73" x2="366.6" y2="178.73" stroke="#404040" stroke-width="1.2" />
<line x1="364" y1="210.52" x2="366.6" y2="210.52" stroke="#404040" stroke-width="1.2" />
<line x1="364" y1="242.31" x2="366.6" y2="242.31" stroke="#404040" stroke-width="1.2" />
<line x1="406.23" y1="258.2" x2="406.23" y2="262.4" stroke="#222" stroke-width="1.3" />
<text x="406.53" y="270.9" font-size="6.3" text-anchor="middle" fill="#3a3a3a" >0</text>
<line x1="485.48" y1="258.2" x2="485.48" y2="262.4" stroke="#222" stroke-width="1.3" />
<text x="482.73 485.78 488.83" y="270.9" font-size="6.3" text-anchor="middle" fill="#3a3a3a" >200</text>
<line x1="564.73" y1="258.2" x2="564.73" y2="262.4" stroke="#222" stroke-width="1.3" />
<text x="561.97 565.02 568.07" y="270.9" font-size="6.3" text-anchor="middle" fill="#3a3a3a" >400</text>
<line x1="643.98" y1="258.2" x2="643.98" y2="262.4" stroke="#222" stroke-width="1.3" />
<text x="641.22 644.27 647.32" y="270.9" font-size="6.3" text-anchor="middle" fill="#3a3a3a" >600</text>
<line x1="366.6" y1="258.2" x2="366.6" y2="260.6" stroke="#404040" stroke-width="1.2" />
<line x1="445.85" y1="258.2" x2="445.85" y2="260.6" stroke="#404040" stroke-width="1.2" />
<line x1="525.1" y1="258.2" x2="525.1" y2="260.6" stroke="#404040" stroke-width="1.2" />
<line x1="604.35" y1="258.2" x2="604.35" y2="260.6" stroke="#404040" stroke-width="1.2" />
<line x1="683.6" y1="258.2" x2="683.6" y2="260.6" stroke="#a0a0a0" stroke-width="1.2" />
<text x="519" y="280.5" font-size="6.6" textLength="12.6" lengthAdjust="spacing" fill="#3a3a3a">Step</text>
<text transform="translate(347.8,140.0) rotate(-90)" x="-25" y="0" font-size="5.8" textLength="50" lengthAdjust="spacing" fill="#333" style="font-family:'Liberation Sans',sans-serif">Displacement (mm)</text>
<rect x="656.3" y="213.1" width="22.3" height="40.2" fill="#fff" stroke="#8a8a8a" stroke-width="0.9"/>
<line x1="657" y1="217.4" x2="669" y2="217.4" stroke="#111111" stroke-width="1.4" />
<text x="672.98 675.92" y="219.6" font-size="6.0" text-anchor="middle" fill="#333" >P1</text>
<line x1="657" y1="223.76" x2="669" y2="223.76" stroke="#ff3a30" stroke-width="1.4" />
<text x="672.98 675.92" y="225.96" font-size="6.0" text-anchor="middle" fill="#333" >P2</text>
<line x1="657" y1="230.12" x2="669" y2="230.12" stroke="#33e633" stroke-width="1.4" />
<text x="672.98 675.92" y="232.32" font-size="6.0" text-anchor="middle" fill="#333" >P3</text>
<line x1="657" y1="236.48" x2="669" y2="236.48" stroke="#2a3cff" stroke-width="1.4" />
<text x="672.98 675.92" y="238.68" font-size="6.0" text-anchor="middle" fill="#333" >P4</text>
<line x1="657" y1="242.84" x2="669" y2="242.84" stroke="#77f0ff" stroke-width="1.4" />
<text x="672.98 675.92" y="245.04" font-size="6.0" text-anchor="middle" fill="#333" >P5</text>
<line x1="657" y1="249.2" x2="669" y2="249.2" stroke="#ff33f0" stroke-width="1.4" />
<text x="672.98 675.92" y="251.4" font-size="6.0" text-anchor="middle" fill="#333" >P6</text>
<text x="378.6" y="13.1" font-size="18.0" fill="#000" stroke="#000" stroke-width="0.3" style="font-family:'Liberation Sans',sans-serif">c</text>
</svg>
</body></html>
